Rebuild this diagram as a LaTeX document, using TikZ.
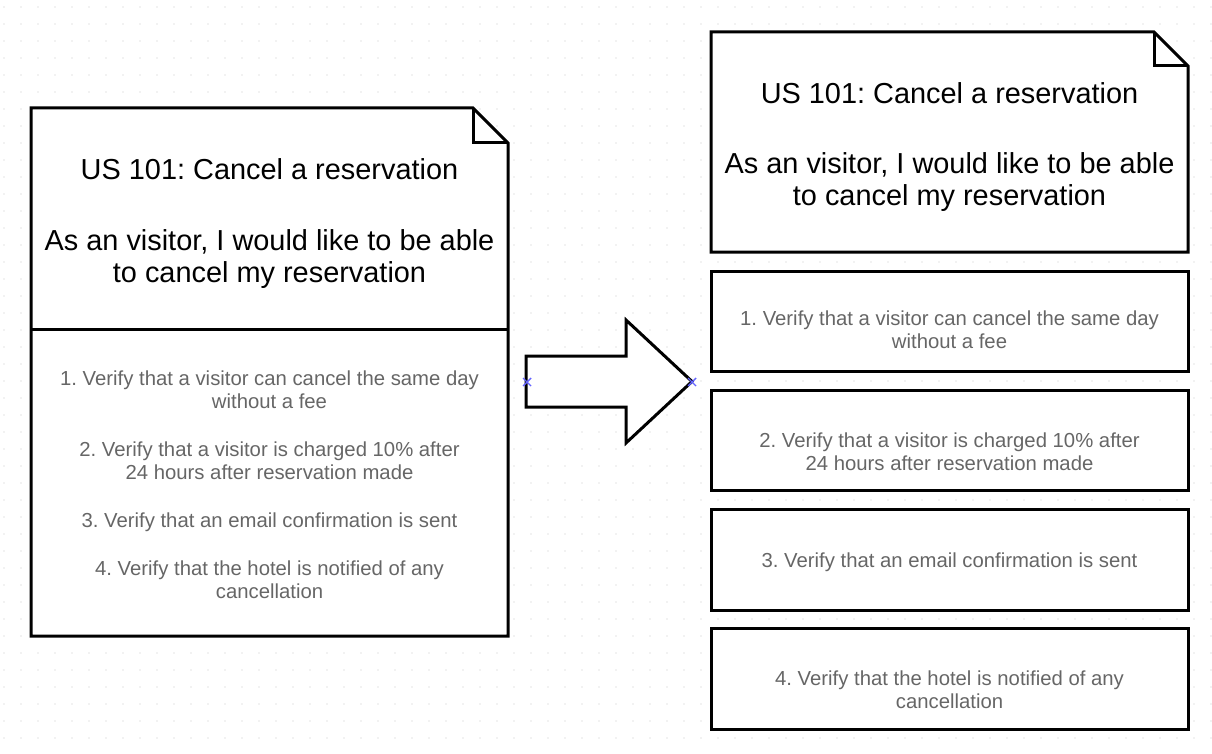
\documentclass[tikz,border=0pt]{standalone}
\usepackage{fontspec}
\setmainfont{Liberation Sans}
\frenchspacing
\definecolor{itemgray}{RGB}{102,102,102}
\definecolor{dotgray}{RGB}{200,200,200}
\definecolor{markblue}{RGB}{100,100,255}
\tikzset{
  shapeline/.style={draw=black, line width=3pt, fill=white, line join=miter},
  titletext/.style={font=\fontsize{28.9}{31}\selectfont, text=black, anchor=base, inner sep=0pt},
  itemtext/.style={font=\fontsize{20.3}{23.5}\selectfont, text=itemgray, anchor=base, inner sep=0pt},
  markx/.style={draw=markblue, line width=1.4pt},
}
\begin{document}
\begin{tikzpicture}[x=1pt, y=-1pt]
\useasboundingbox (0,0) rectangle (1212,754);
\fill[white] (0,0) rectangle (1212,754);
% dotted grid
\foreach \i in {0,...,71} {
  \foreach \j in {0,...,43} {
    \fill[dotgray] ({4+17*\i},{7+17*\j}) circle (0.7);
  }
}
% ---------- left note ----------
\draw[shapeline] (31,108) -- (473,108) -- (508,143) -- (508,636) -- (31,636) -- cycle;
\draw[shapeline, fill=none] (473,108) -- (473,143) -- (508,143);
\draw[line width=3pt] (31,329) -- (508,329);
\node[titletext] (lt1) at (269.5,180) {US 101: Cancel a reservation};
\node[titletext] (lt2) at (269.5,250) {As an visitor, I would like to be able};
\node[titletext] (lt3) at (269.5,282) {to cancel my reservation};
\node[itemtext] (li1a) at (269.5,385) {1. Verify that a visitor can cancel the same day};
\node[itemtext] (li1b) at (269.5,408) {without a fee};
\node[itemtext] (li2a) at (269.5,456) {2. Verify that a visitor is charged 10\% after};
\node[itemtext] (li2b) at (269.5,479) {24 hours after reservation made};
\node[itemtext] (li3a) at (269.5,527) {3. Verify that an email confirmation is sent};
\node[itemtext] (li4a) at (269.5,575) {4. Verify that the hotel is notified of any};
\node[itemtext] (li4b) at (269.5,598) {cancellation};
% ---------- block arrow ----------
\draw[shapeline] (526,356) -- (626,356) -- (626,320) -- (692,381.5) -- (626,443) -- (626,407) -- (526,407) -- cycle;
\coordinate (arrowtail) at (527,382);
\coordinate (arrowtip) at (692,382);
\draw[markx] ([shift={(-4,-4)}]arrowtail) -- ([shift={(4,4)}]arrowtail) ([shift={(-4,4)}]arrowtail) -- ([shift={(4,-4)}]arrowtail);
\draw[markx] ([shift={(-4,-4)}]arrowtip) -- ([shift={(4,4)}]arrowtip) ([shift={(-4,4)}]arrowtip) -- ([shift={(4,-4)}]arrowtip);
% ---------- right note ----------
\draw[shapeline] (711,32) -- (1154,32) -- (1188,66) -- (1188,252) -- (711,252) -- cycle;
\draw[shapeline, fill=none] (1154,32) -- (1154,66) -- (1188,66);
\node[titletext] (rt1) at (949.5,104) {US 101: Cancel a reservation};
\node[titletext] (rt2) at (949.5,174) {As an visitor, I would like to be able};
\node[titletext] (rt3) at (949.5,206) {to cancel my reservation};
% ---------- right boxes ----------
\draw[shapeline] (711,271) rectangle (1188,371);
\draw[shapeline] (711,390) rectangle (1188,490);
\draw[shapeline] (711,509) rectangle (1188,610);
\draw[shapeline] (711,628) rectangle (1188,729);
\node[itemtext] (r1a) at (949.5,325) {1. Verify that a visitor can cancel the same day};
\node[itemtext] (r1b) at (949.5,348) {without a fee};
\node[itemtext] (r2a) at (949.5,447) {2. Verify that a visitor is charged 10\% after};
\node[itemtext] (r2b) at (949.5,470) {24 hours after reservation made};
\node[itemtext] (r3a) at (949.5,567) {3. Verify that an email confirmation is sent};
\node[itemtext] (r4a) at (949.5,685) {4. Verify that the hotel is notified of any};
\node[itemtext] (r4b) at (949.5,708) {cancellation};
\end{tikzpicture}
\end{document}
